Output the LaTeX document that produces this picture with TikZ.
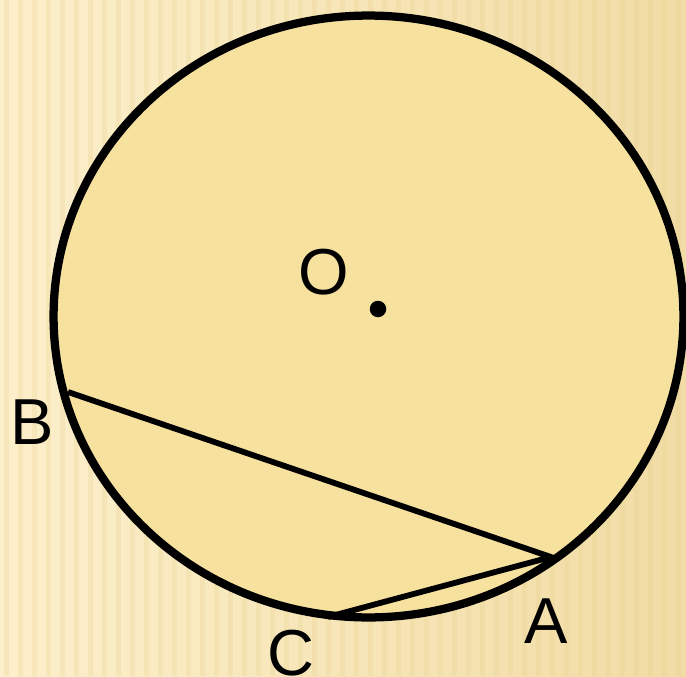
\documentclass[tikz,border=0pt]{standalone}
\usepackage{fontspec}
\setmainfont{Liberation Sans}
\usepackage{xcolor}
\usetikzlibrary{positioning}

\definecolor{bgleft}{HTML}{FCEFCB}
\definecolor{bgright}{HTML}{F1DCA5}
\definecolor{stripecol}{HTML}{E8D08A}
\definecolor{discfill}{HTML}{F7E19F}

\begin{document}
\begin{tikzpicture}[
  x=0.02cm, y=-0.02cm,
  disc/.style={
    draw=black,
    line width=4.7pt,
    fill=discfill
  },
  chord/.style={line width=3.3pt},
  dot/.style={
    circle,
    fill=black,
    inner sep=0pt,
    minimum size=0.33cm
  },
  lbl/.style={
    font=\fontsize{37}{40}\selectfont,
    inner sep=0pt
  }
]
  % background with soft vertical stripes
  \useasboundingbox (0,0) rectangle (686,676);
  \shade[left color=bgleft, right color=bgright] (0,0) rectangle (686,676);
  \foreach \x in {4,18,...,686}
    \fill[stripecol, opacity=0.25] (\x,0) rectangle ++(5,676);

  % the circle
  \coordinate (ctr) at (368.5,316.5);
  \draw[disc] (ctr) ellipse [x radius=6.3cm, y radius=6.02cm];

  % points on the circle
  \coordinate (B) at (68,392);
  \coordinate (A) at (551,557);
  \coordinate (C) at (328,617);
  \node[dot] (O) at (378,309) {};

  \draw[chord] (B) -- (A) -- (C);

  % labels
  \node[lbl] (labO) at (324,272) {O};
  \node[lbl] (labB) at (32,422) {B};
  \node[lbl] (labA) at (546,621) {A};
  \node[lbl] (labC) at (291,653) {C};
\end{tikzpicture}
\end{document}
